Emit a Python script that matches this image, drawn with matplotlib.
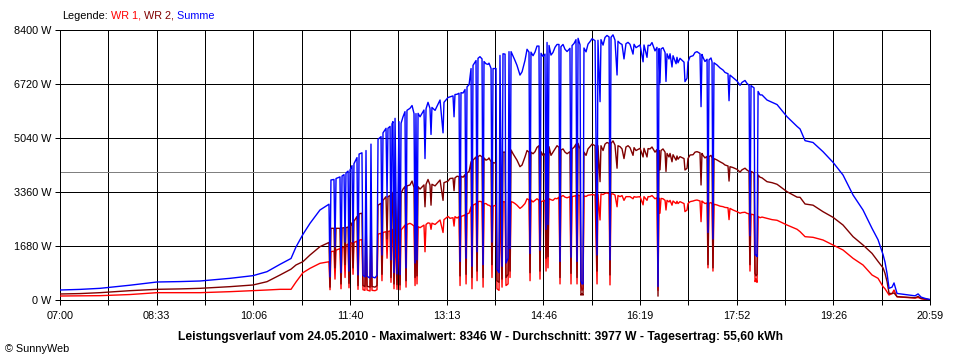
import numpy as np
import matplotlib
matplotlib.use("Agg")
import matplotlib.pyplot as plt

# ---- data (time in minutes since midnight, power in W) ----
zeit = [
    420.0, 439.3, 458.6, 487.5, 513.5, 535.7, 555.0, 583.9, 606.1, 619.6,
    632.2, 642.8, 647.6, 654.3, 661.1, 670.7, 679.4,
    680.4, 681.3, 684.2, 685.2, 686.2, 690.0, 691.0, 692.0, 693.9, 694.9,
    695.8, 697.8, 698.7, 699.7, 701.6, 702.6, 703.5, 706.4, 707.4, 708.4,
    711.2, 712.2, 714.1, 715.1, 716.1, 719.0, 719.9, 720.9, 723.8, 725.7,
    726.7, 729.6, 730.5, 731.5, 734.4, 735.4, 736.3, 738.3, 739.2, 740.2,
    741.1, 742.1, 743.1, 745.0, 746.9, 747.9, 748.9, 752.7, 753.7, 754.6,
    757.5, 761.4, 762.4, 763.3, 764.3, 765.3, 771.0, 772.0, 773.0, 776.8,
    777.8, 778.7, 786.5,
    789.4, 790.3, 796.1, 799.0, 800.0, 800.9, 804.8, 805.8, 806.7, 810.6,
    811.6, 812.5, 816.4, 817.3, 818.3, 821.2, 822.2, 823.1, 827.0, 828.0,
    828.9, 832.8, 835.7, 836.6, 837.6, 840.5, 841.4, 843.4, 844.3, 846.3,
    847.2, 849.2, 850.1, 852.1, 853.0, 854.0, 855.0, 858.8, 863.6, 865.6,
    868.4, 872.3, 873.3, 874.2, 878.1, 881.9, 882.9, 883.9, 887.7, 888.7,
    889.7, 890.6, 891.6, 895.4, 897.4, 901.2, 902.2, 903.1, 907.0, 911.8,
    912.8, 913.8, 917.6, 918.6, 919.6, 921.5, 922.4, 923.4, 924.4, 925.3,
    929.2, 931.1, 936.0, 937.9, 938.8, 940.8, 941.7, 945.6, 949.5, 950.4,
    951.4, 955.2, 957.2, 958.1, 960.1, 963.9, 965.8, 969.7, 972.6, 973.6,
    979.4, 982.3, 983.2, 986.1, 987.1, 989.0, 995.7, 996.7, 997.7, 998.6,
    999.6, 1003.5, 1004.4, 1005.4, 1008.3, 1010.2, 1011.2, 1014.1, 1015.0, 1017.9,
    1021.8, 1022.7, 1024.7, 1025.6, 1027.6, 1032.4, 1034.3, 1037.2, 1038.2, 1039.1,
    1040.1, 1044.0, 1044.9, 1045.9, 1048.8, 1049.7, 1050.7, 1053.6, 1059.4, 1064.2,
    1065.2, 1066.1, 1072.9, 1077.7, 1082.5, 1084.5, 1085.4, 1086.4, 1089.3, 1090.3,
    1091.2, 1092.2, 1093.2, 1097.0, 1101.8, 1111.5, 1121.1, 1130.8, 1133.7, 1138.5,
    1146.2, 1155.8, 1165.5, 1175.1, 1184.8, 1194.4, 1203.1, 1208.9, 1213.7, 1215.6,
    1217.6, 1219.5, 1222.4, 1224.3, 1227.2, 1234.9, 1239.7, 1244.6, 1247.5, 1250.4,
    1254.2, 1259.0,
    # further readings between the ones above
    750.8, 759.5, 767.2, 774.9, 781.7, 794.2, 802.9, 808.7, 814.5, 825.0,
    830.8, 833.7, 856.9, 860.7, 870.4, 876.2, 880.0, 885.8, 893.5, 899.3,
    905.1, 909.0, 915.7, 927.3, 933.1, 943.7, 947.5, 953.3, 962.0, 967.8,
    975.5, 990.9, 993.8, 1001.5, 1007.3, 1016.0, 1030.5, 1042.0, 1047.8, 1056.5,
    1061.3, 1069.0, 1075.8, 1080.6, 1095.1, 1106.7,
]
wr1 = [
    124, 130, 135, 170, 228, 228, 228, 259, 290, 311,
    332, 332, 560, 850, 985, 1141, 1190,
    320, 1504, 1520, 650, 1550, 1600, 350, 1620, 1650, 700,
    1700, 1740, 380, 1763, 1780, 800, 1790, 1830, 330, 1860,
    1880, 320, 300, 1900, 310, 280, 2000, 300, 290, 320,
    2050, 2074, 600, 2100, 2126, 1300, 2130, 2150, 550, 2180,
    2200, 350, 2230, 330, 2200, 320, 2178, 2330, 400, 2350,
    2385, 2300, 450, 2300, 500, 2281, 2330, 1500, 2350, 2385,
    2200, 2390, 2489,
    2100, 2500, 2541, 2560, 2300, 2593, 2593, 450, 2600, 2650,
    500, 2680, 2900, 350, 2950, 3000, 600, 3059, 3050, 400,
    3000, 2950, 2904, 700, 2920, 2950, 350, 300, 3059, 400,
    3060, 3050, 450, 500, 3059, 700, 3059, 3000, 2850, 2900,
    3000, 3111, 600, 3111, 3100, 3100, 650, 3059, 3100, 900,
    3163, 1000, 3150, 3100, 3163, 3200, 500, 3215, 3200, 3215,
    500, 3215, 3250, 500, 3267, 3240, 450, 300, 350, 3240,
    3260, 3267, 3267, 500, 3280, 2489, 3300, 3319, 3310, 470,
    3300, 3267, 2900, 3250, 3215, 3100, 3215, 3215, 3150, 3215,
    3215, 2960, 3215, 3100, 3215, 3215, 3180, 300, 3170, 2700,
    3160, 3100, 2800, 3100, 3100, 2950, 3080, 3000, 3070, 3059,
    3000, 2750, 2800, 3000, 3059, 3100, 3111, 3080, 2437, 3080,
    3050, 3020, 1000, 3010, 2990, 900, 2980, 2956, 2904, 2870,
    2500, 2850, 2748, 2720, 2696, 2680, 900, 2670, 2650, 570,
    650, 550, 2600, 2580, 2541, 2480, 2333, 2200, 2126, 1970,
    1950, 1867, 1711, 1556, 1296, 1089, 778, 674, 415, 350,
    250, 156, 200, 311, 100, 80, 70, 60, 80, 40,
    20, 5,
    2250, 2350, 2250, 2400, 2350, 2600, 2550, 2620, 2700, 3070,
    3000, 2950, 3040, 2950, 3150, 3050, 3150, 3080, 3120, 3150,
    3250, 3180, 3230, 3220, 3280, 3280, 3330, 3300, 3250, 3215,
    3200, 3250, 3150, 3150, 3050, 3000, 3080, 3000, 3030, 2920,
    2880, 2800, 2700, 2730, 2560, 2500,
]
wr2 = [
    187, 200, 228, 290, 332, 345, 363, 415, 467, 570,
    778, 960, 1090, 1193, 1400, 1659, 1790,
    400, 2230, 2230, 1000, 2230, 2230, 500, 2240, 2250, 1100,
    2250, 2270, 520, 2282, 2400, 1000, 2450, 2600, 450, 2680,
    2700, 450, 420, 2750, 430, 400, 2850, 420, 400, 450,
    2950, 3008, 800, 3100, 3215, 1900, 3215, 3250, 700, 3300,
    3350, 500, 3422, 480, 3350, 470, 3319, 3530, 600, 3550,
    3578, 3500, 700, 3500, 750, 3526, 3580, 2900, 3600, 3578,
    2950, 3600, 3733,
    3100, 3650, 3780, 3790, 3400, 3800, 3840, 750, 3850, 3900,
    800, 3950, 4300, 700, 4350, 4450, 900, 4459, 4450, 700,
    4420, 4380, 4300, 1100, 4280, 4252, 600, 550, 4550, 650,
    4600, 4600, 700, 800, 4667, 900, 4667, 4450, 4148, 4200,
    4450, 4600, 850, 4600, 4615, 4800, 900, 4615, 4550, 1300,
    4850, 1348, 4770, 4600, 4700, 4750, 700, 4667, 4600, 4615,
    830, 4700, 4850, 700, 4874, 4700, 150, 200, 150, 4600,
    4700, 4770, 4800, 900, 4800, 3681, 4800, 4850, 4874, 780,
    4874, 4820, 4100, 4800, 4770, 4400, 4760, 4740, 4500, 4740,
    4719, 4450, 4719, 4450, 4710, 4700, 4680, 120, 4650, 4050,
    4650, 4600, 4000, 4560, 4560, 4300, 4520, 4350, 4480, 4459,
    4400, 4044, 4100, 4400, 4511, 4600, 4615, 4580, 3578, 4560,
    4500, 4470, 1100, 4460, 4420, 1000, 4400, 4356, 4250, 4170,
    3700, 4148, 4065, 4050, 4044, 4000, 1100, 4000, 3950, 830,
    750, 800, 3889, 3800, 3681, 3600, 3370, 3200, 3194, 2987,
    2950, 2748, 2572, 2333, 1970, 1711, 1450, 1200, 1000, 830,
    570, 207, 200, 220, 104, 90, 80, 70, 110, 50,
    30, 10,
    3450, 3700, 3450, 3750, 3550, 3700, 3850, 3820, 4000, 4500,
    4350, 4420, 4550, 4350, 4650, 4550, 4750, 4500, 4500, 4800,
    4700, 4550, 4750, 4500, 4850, 4650, 4900, 4950, 4700, 4800,
    4650, 4760, 4600, 4700, 4450, 4380, 4520, 4420, 4500, 4300,
    4200, 4120, 3980, 4100, 3820, 3650,
]
assert len(zeit) == len(wr1) == len(wr2)

durchschnitt = 3977
y_ticks = [0, 1680, 3360, 5040, 6720, 8400]
x_tick_labels = ["07:00", "08:33", "10:06", "11:40", "13:13", "14:46",
                 "16:19", "17:52", "19:26", "20:59"]
t_start, t_end = 420, 1259
legend_parts = [("Legende:", "black"), (" WR 1,", "#ff0000"),
                (" WR 2,", "#800000"), (" Summe", "#0000ff")]
titel = ("Leistungsverlauf vom 24.05.2010 - Maximalwert: 8346 W - "
         "Durchschnitt: 3977 W - Tagesertrag: 55,60 kWh")

order = np.argsort(zeit, kind='stable')
t_arr = np.asarray(zeit)[order]
r1 = np.asarray(wr1)[order]
r2 = np.asarray(wr2)[order]
summe = r1 + r2

plt.rcParams['font.family'] = ['Liberation Sans', 'DejaVu Sans']

W, H = 960, 360
fig = plt.figure(figsize=(W / 100, H / 100), dpi=100, facecolor='white')
ax = fig.add_axes([60 / W, 1 - 300 / H, 870 / W, 270 / H])
ax.set_facecolor('white')

lw = 1.0
ax.plot(t_arr, r1, color='#ff0000', lw=lw, zorder=3)
ax.plot(t_arr, r2, color='#800000', lw=lw, zorder=4)
ax.plot(t_arr, summe, color='#0000ff', lw=lw, zorder=5)
ax.axhline(durchschnitt, color='#808080', lw=0.72, zorder=2, antialiased=False)

ax.set_xlim(t_start, t_end)
ax.set_ylim(0, 8400)

n_grid = 18
xt = [t_start + k * (t_end - t_start) / n_grid for k in range(n_grid + 1)]
ax.set_xticks(xt)
ax.set_xticklabels([x_tick_labels[k // 2] if k % 2 == 0 else "" for k in range(n_grid + 1)])
ax.set_yticks(y_ticks)
ax.set_yticklabels([f"{v} W" for v in y_ticks])
ax.grid(True, color='black', lw=0.72, zorder=1, antialiased=False)
ax.set_axisbelow(True)
for s in ax.spines.values():
    s.set_color('black')
    s.set_linewidth(0.72)
    s.set_antialiased(False)
ax.tick_params(axis='both', direction='out', length=3.6, width=0.72,
               color='black', labelsize=7.8, labelcolor='black')
ax.tick_params(axis='x', pad=4.5)
ax.tick_params(axis='y', pad=2.8)

# title and footer
fig.text(0.5, 1 - 337 / H, titel, ha='center', va='center',
         fontsize=8.75, fontweight='bold', color='black')
fig.text(5 / W, 1 - 349 / H, "\u00a9 SunnyWeb", ha='left', va='center',
         fontsize=7.8, color='black')

# coloured legend line
fig.canvas.draw()
r = fig.canvas.get_renderer()
def text_w(s):
    t = fig.text(0, 0, s + "|", fontsize=7.8)
    t2 = fig.text(0, 0, "|", fontsize=7.8)
    w = t.get_window_extent(renderer=r).width - t2.get_window_extent(renderer=r).width
    t.remove(); t2.remove()
    return w
x0 = 62
prefix = ""
for s, c in legend_parts:
    fig.text((x0 + (text_w(prefix) if prefix else 0)) / W, 1 - 16 / H, s,
             ha='left', va='center', fontsize=7.8, color=c)
    prefix += s

fig.savefig("out.png", dpi=100, facecolor='white')
